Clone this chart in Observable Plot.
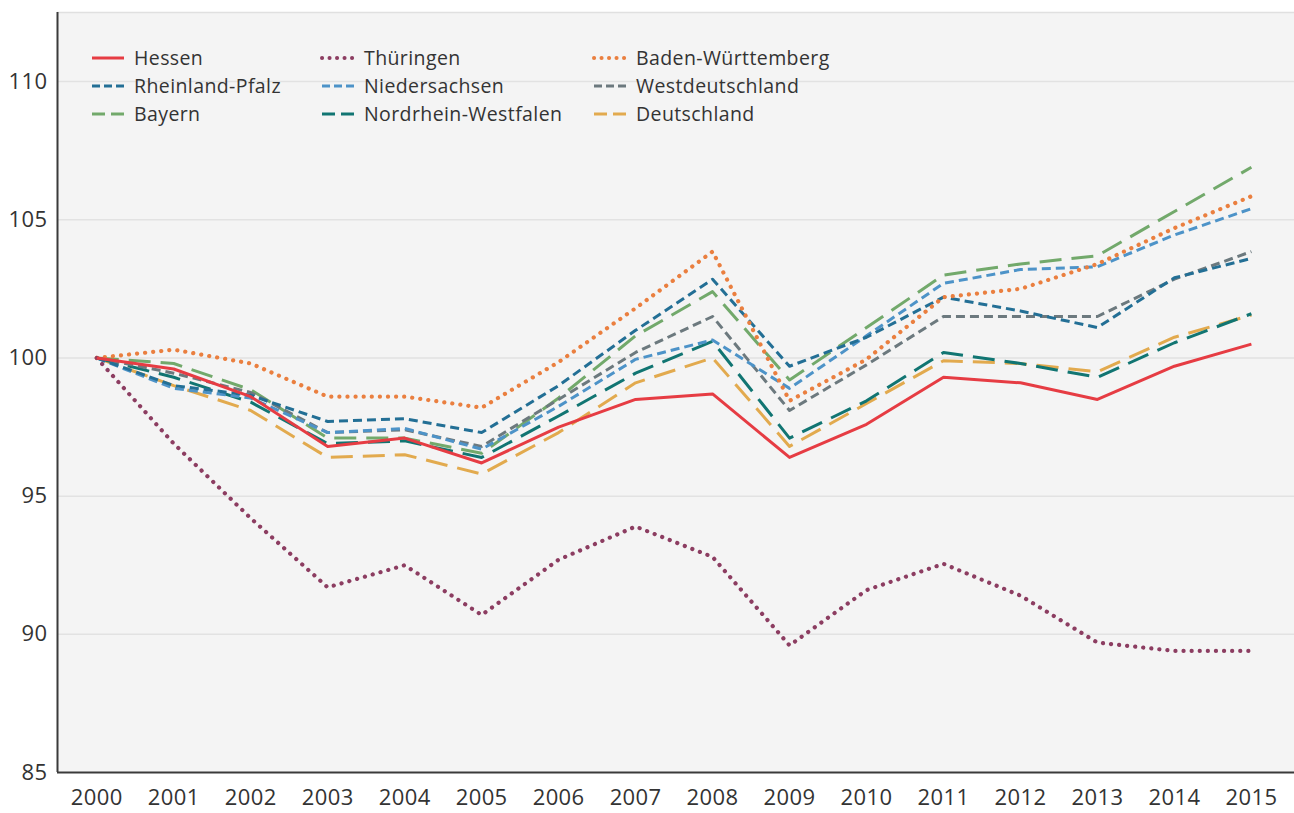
<!DOCTYPE html>
<html>
<head>
<meta charset="utf-8">
<script src="https://cdn.jsdelivr.net/npm/d3@7"></script>
<script src="https://cdn.jsdelivr.net/npm/@observablehq/plot@0.6"></script>
<style>
  html, body { margin: 0; padding: 0; background: #ffffff; }
  #chart { width: 1294px; height: 813px; }
</style>
</head>
<body>
<div id="chart"></div>
<script>
const years = [2000, 2001, 2002, 2003, 2004, 2005, 2006, 2007, 2008, 2009, 2010, 2011, 2012, 2013, 2014, 2015];
const yTicks = [85, 90, 95, 100, 105, 110];

const hessen       = [100, 99.6, 98.6, 96.8, 97.1, 96.2, 97.5, 98.5, 98.7, 96.4, 97.6, 99.3, 99.1, 98.5, 99.7, 100.5];
const thueringen   = [100, 96.9, 94.2, 91.7, 92.5, 90.7, 92.7, 93.9, 92.8, 89.6, 91.6, 92.55, 91.4, 89.7, 89.4, 89.4];
const badenW       = [100, 100.3, 99.8, 98.6, 98.6, 98.2, 99.85, 101.8, 103.85, 98.45, 99.95, 102.2, 102.5, 103.4, 104.7, 105.85];
const rheinlandPf  = [100, 99.0, 98.65, 97.7, 97.8, 97.3, 99.0, 101.0, 102.85, 99.7, 100.75, 102.2, 101.7, 101.1, 102.9, 103.6];
const niedersachs  = [100, 98.9, 98.55, 97.3, 97.45, 96.7, 98.25, 99.95, 100.65, 98.9, 100.8, 102.7, 103.2, 103.3, 104.45, 105.4];
const westdeutsch  = [100, 99.45, 98.75, 97.3, 97.4, 96.8, 98.5, 100.2, 101.5, 98.1, 99.75, 101.5, 101.5, 101.5, 102.85, 103.85];
const bayern       = [100, 99.8, 98.85, 97.1, 97.1, 96.55, 98.55, 100.8, 102.4, 99.2, 101.1, 103.0, 103.4, 103.7, 105.3, 106.9];
const nrw          = [100, 99.3, 98.4, 96.9, 97.0, 96.4, 97.9, 99.45, 100.6, 97.1, 98.45, 100.2, 99.8, 99.3, 100.55, 101.6];
const deutschland  = [100, 99.0, 98.1, 96.4, 96.5, 95.8, 97.3, 99.1, 100.0, 96.8, 98.35, 99.9, 99.8, 99.5, 100.75, 101.55];

// legend order (row-major: 3 columns)
const seriesNames = ["Hessen", "Thüringen", "Baden-Württemberg", "Rheinland-Pfalz", "Niedersachsen", "Westdeutschland", "Bayern", "Nordrhein-Westfalen", "Deutschland"];
const seriesValues = [hessen, thueringen, badenW, rheinlandPf, niedersachs, westdeutsch, bayern, nrw, deutschland];
const seriesColors = ["#e63c43", "#8c3d61", "#ea7f3f", "#236f95", "#4d93c8", "#6c797e", "#72a96b", "#117572", "#e2aa4e"];
const seriesStyle  = ["solid", "dot", "dot", "short", "short", "short", "long", "long", "long"];
// drawing order (last on top)
const drawOrder = [8, 7, 6, 5, 4, 3, 2, 1, 0];

const dashFor = s => s === "solid" ? null : s === "dot" ? "0.1 8" : s === "short" ? "9 5" : "22 10";
const legendDash = s => s === "solid" ? null : s === "dot" ? "0.1 7.4" : s === "short" ? "8 4" : "13 6";

const font = "'Open Sans', 'Noto Sans', sans-serif";

const marks = [
  Plot.frame({fill: "#f4f4f4", stroke: null}),
  Plot.ruleY(yTicks.filter(d => d > 85), {stroke: "#e2e2e2", strokeWidth: 1.5}),
];
for (const i of drawOrder) {
  const data = years.map((yr, j) => ({year: yr, value: seriesValues[i][j]}));
  marks.push(Plot.line(data, {
    x: "year", y: "value",
    stroke: seriesColors[i],
    strokeWidth: seriesStyle[i] === "dot" ? 4.2 : 3,
    strokeDasharray: dashFor(seriesStyle[i]),
    strokeLinecap: seriesStyle[i] === "dot" ? "round" : "butt",
    strokeLinejoin: "round"
  }));
}
marks.push(
  Plot.ruleY([112.5], {stroke: "#e0e0e0", strokeWidth: 1.5}),
  Plot.ruleX([1999.49], {stroke: "#3a3a3a", strokeWidth: 2}),
  Plot.ruleY([85], {stroke: "#3a3a3a", strokeWidth: 2}),
  Plot.axisX({ticks: years, tickFormat: d => String(d), tickSize: 0, tickPadding: 17, fontSize: 22, fill: "#333", label: null}),
  Plot.axisY({ticks: yTicks, tickFormat: d => String(d), tickSize: 0, tickPadding: 10, fontSize: 22, fill: "#333", label: null})
);

const chart = Plot.plot({
  width: 1294,
  height: 813,
  marginLeft: 57,
  marginRight: 0,
  marginTop: 12,
  marginBottom: 41,
  style: {fontFamily: font, background: "#ffffff", color: "#333", letterSpacing: "0.4px"},
  x: {type: "linear", domain: [1999.49, 2015.56]},
  y: {domain: [85, 112.5]},
  marks
});

// legend inside the plot area
const svg = d3.select(chart);
const colX = [92, 322, 594];
const rowY = [58, 86, 114];
const lg = svg.append("g")
  .attr("font-family", font)
  .attr("font-size", 19.5)
  .attr("fill", "#333")
  .attr("text-anchor", "start");
seriesNames.forEach((name, i) => {
  const cx = colX[i % 3], cy = rowY[Math.floor(i / 3)];
  const st = seriesStyle[i];
  lg.append("line")
    .attr("x1", cx).attr("x2", cx + 32).attr("y1", cy).attr("y2", cy)
    .attr("stroke", seriesColors[i])
    .attr("stroke-width", st === "dot" ? 4 : 3)
    .attr("stroke-linecap", st === "dot" ? "round" : "butt")
    .attr("stroke-dasharray", legendDash(st));
  lg.append("text").attr("x", cx + 42).attr("y", cy).attr("dy", "0.35em").attr("text-anchor", "start").text(name);
});

document.getElementById("chart").appendChild(chart);
</script>
</body>
</html>
